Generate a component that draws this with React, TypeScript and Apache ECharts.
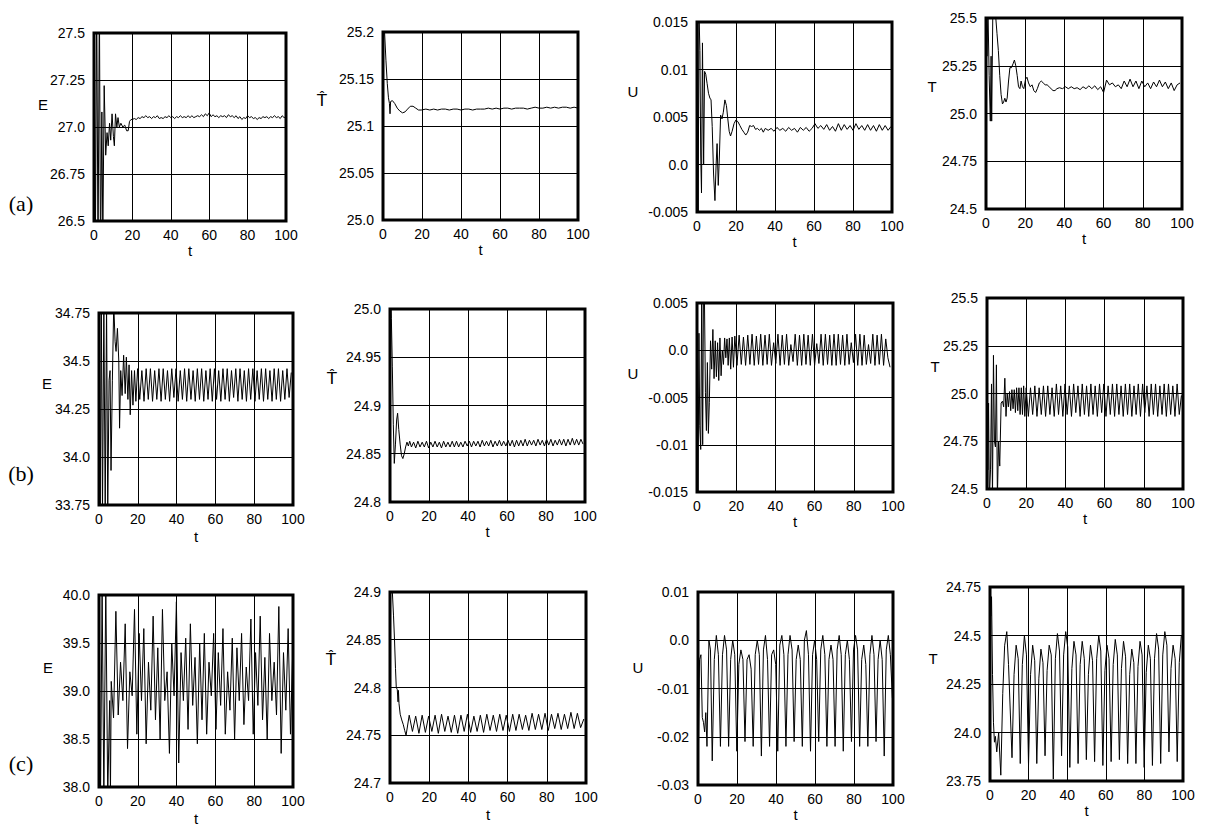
import React, { useEffect, useRef } from 'react';
import * as echarts from 'echarts';

type Pt = [number, number];

const X_LABELS = ['0', '20', '40', '60', '80', '100'];

// ---------- row (a) ----------
const A_E_LABELS = ['26.5', '26.75', '27.0', '27.25', '27.5'];
const A_E_START: Pt[] = [
  [0, 27.6], [0.7, 26.3], [1.4, 27.7], [2.1, 26.3], [2.8, 27.7], [3.4, 26.3], [4.1, 27.08], [4.6, 26.4],
  [5.3, 27.22], [6.1, 26.85], [6.8, 26.97], [7.4, 26.9], [8.1, 27.02], [8.7, 26.93], [9.4, 27.07],
  [10.1, 26.95], [10.6, 26.9], [11.2, 27.07], [11.9, 27.0], [12.5, 27.05], [13.2, 27.0], [14, 27.02],
  [15, 27.0], [16, 27.01], [17, 26.98], [17.8, 26.98], [18.5, 27.03], [19.3, 27.04],
];
const A_E_T0 = 20;
const A_E_DT = 1;
const A_E_VALUES = [
  27.04, 27.045, 27.04, 27.05, 27.045, 27.055, 27.05, 27.06, 27.05, 27.055,
  27.045, 27.055, 27.05, 27.06, 27.045, 27.05, 27.045, 27.055, 27.05, 27.06,
  27.05, 27.055, 27.045, 27.055, 27.05, 27.06, 27.05, 27.055, 27.05, 27.06,
  27.05, 27.06, 27.05, 27.055, 27.06, 27.055, 27.065, 27.055, 27.07, 27.06,
  27.075, 27.055, 27.065, 27.055, 27.06, 27.05, 27.06, 27.055, 27.06, 27.05,
  27.065, 27.055, 27.06, 27.05, 27.06, 27.045, 27.055, 27.04, 27.05, 27.045,
  27.06, 27.05, 27.055, 27.045, 27.05, 27.04, 27.05, 27.045, 27.055, 27.05,
  27.055, 27.045, 27.055, 27.05, 27.06, 27.05, 27.055, 27.045, 27.06, 27.05,
  27.055,
];

const A_TH_LABELS = ['25.0', '25.05', '25.1', '25.15', '25.2'];
const A_TH_START: Pt[] = [
  [0, 25.26], [0.8, 25.2], [1.5, 25.17], [2.2, 25.145], [2.8, 25.13], [3.3, 25.124], [3.6, 25.113],
  [3.9, 25.126], [4.8, 25.127], [6, 25.124], [7.3, 25.119], [8.6, 25.116], [10, 25.114], [11.3, 25.115],
  [12.6, 25.118], [14, 25.121], [15.4, 25.121], [16.8, 25.119], [18.2, 25.117], [19.6, 25.117],
];
const A_TH_T0 = 22;
const A_TH_DT = 2;
const A_TH_VALUES = [
  25.118, 25.117, 25.118, 25.117, 25.118, 25.118, 25.117, 25.118, 25.118, 25.117,
  25.118, 25.118, 25.117, 25.118, 25.118, 25.118, 25.119, 25.118, 25.119, 25.118,
  25.119, 25.119, 25.118, 25.119, 25.119, 25.119, 25.118, 25.119, 25.12, 25.119,
  25.119, 25.12, 25.119, 25.12, 25.119, 25.12, 25.12, 25.119, 25.12, 25.119,
];

const A_U_LABELS = ['-0.005', '0.0', '0.005', '0.01', '0.015'];
const A_U_START: Pt[] = [
  [0, 0.016], [0.6, -0.006], [1.0, 0.016], [1.5, 0.012], [1.9, 0.001], [2.3, -0.003], [2.8, 0.0128],
  [3.4, 0.0], [3.9, 0.0098], [4.5, 0.0095], [5.2, 0.0085], [5.9, 0.0075], [6.6, 0.007], [7.2, 0.0068],
  [7.8, 0.004], [8.5, -0.001], [9.2, -0.0038], [9.8, 0.0], [10.3, 0.0022], [10.9, -0.0022], [11.5, 0.001],
  [12.1, 0.0052], [12.8, 0.0048], [13.5, 0.0055], [14.3, 0.0068], [15.1, 0.0062], [15.8, 0.0048],
  [16.5, 0.0035], [17.2, 0.003], [18, 0.0035], [19, 0.0043], [20, 0.0047], [21, 0.0045], [22, 0.0041],
  [23, 0.0037], [24, 0.0034], [25, 0.0031], [26, 0.0034], [27, 0.0041], [28, 0.004], [29, 0.0041],
  [30, 0.0037], [31, 0.0038], [32, 0.0036], [33, 0.0038], [34, 0.0034], [35, 0.0038],
];
const A_U_T0 = 36.5;
const A_U_DT = 1.5;
const A_U_VALUES = [
  0.0036, 0.0038, 0.0035, 0.0039, 0.0036, 0.0038, 0.0035, 0.0039, 0.0036, 0.0038,
  0.0034, 0.0039, 0.0036, 0.0039, 0.0035, 0.0038, 0.0043, 0.0038, 0.0041, 0.0037,
  0.0042, 0.0036, 0.004, 0.0035, 0.0043, 0.0036, 0.0042, 0.0037, 0.0041, 0.0036,
  0.0043, 0.0037, 0.0041, 0.0036, 0.0042, 0.0036, 0.0041, 0.0035, 0.0042, 0.0036,
  0.0041, 0.0036, 0.004,
];

const A_T_LABELS = ['24.5', '24.75', '25.0', '25.25', '25.5'];
const A_T_START: Pt[] = [
  [0, 25.6], [0.5, 25.3], [1, 25.55], [1.6, 25.2], [2.2, 24.96], [2.6, 25.3], [2.9, 24.96], [3.5, 25.55],
  [4.3, 25.5], [5.0, 25.5], [5.6, 25.42], [6.3, 25.33], [7.0, 25.2], [7.7, 25.1], [8.4, 25.05], [9, 25.06],
  [9.6, 25.08], [10.2, 25.06], [10.8, 25.08], [11.5, 25.17], [12.2, 25.24], [13, 25.24], [13.8, 25.26],
  [14.5, 25.28], [15.2, 25.25], [15.9, 25.2], [16.6, 25.14], [17.3, 25.13], [17.9, 25.17], [18.6, 25.14],
  [19.3, 25.13], [20.2, 25.18], [20.9, 25.19], [21.7, 25.16], [22.6, 25.14], [23.5, 25.15], [24.4, 25.12],
  [25.3, 25.11], [26.2, 25.13], [27.2, 25.16], [28.2, 25.17], [29.2, 25.16], [30.2, 25.15], [31.2, 25.15],
  [32.2, 25.14], [33.2, 25.13], [34.2, 25.12], [35.2, 25.12], [36.2, 25.13],
];
const A_T_T0 = 37.5;
const A_T_DT = 1.5;
const A_T_VALUES = [
  25.135, 25.13, 25.14, 25.13, 25.14, 25.13, 25.135, 25.125, 25.14, 25.13,
  25.145, 25.13, 25.145, 25.125, 25.14, 25.11, 25.175, 25.15, 25.16, 25.14,
  25.15, 25.13, 25.17, 25.14, 25.18, 25.14, 25.17, 25.13, 25.17, 25.14,
  25.16, 25.13, 25.165, 25.14, 25.175, 25.14, 25.165, 25.13, 25.16, 25.12,
  25.15, 25.16,
];

// ---------- row (b) ----------
const B_E_LABELS = ['33.75', '34.0', '34.25', '34.5', '34.75'];
const B_E_START: Pt[] = [
  [0, 34.8], [0.6, 33.7], [1.2, 34.8], [1.8, 33.7], [2.5, 34.8], [3.2, 33.7], [3.9, 34.8], [4.5, 33.7],
  [5.2, 34.4], [5.7, 34.45], [6.2, 33.93], [6.9, 34.4], [7.6, 34.8], [8.3, 34.6], [8.8, 34.55], [9.5, 34.67],
  [10.2, 34.5], [10.6, 34.15], [11.2, 34.45], [11.9, 34.32], [12.7, 34.53], [13.5, 34.33], [14.1, 34.52],
  [14.9, 34.3], [15.5, 34.48], [16.1, 34.22], [16.8, 34.45], [17.5, 34.27], [18.3, 34.45], [19, 34.29],
];
const B_E_T0 = 19.9;
const B_E_DT = 1.1;
const B_E_VALUES = [
  34.46, 34.3, 34.45, 34.29, 34.46, 34.3, 34.46, 34.29, 34.45, 34.3,
  34.46, 34.29, 34.46, 34.3, 34.45, 34.29, 34.46, 34.31, 34.46, 34.29,
  34.45, 34.3, 34.46, 34.29, 34.46, 34.3, 34.45, 34.29, 34.46, 34.3,
  34.46, 34.29, 34.45, 34.3, 34.46, 34.29, 34.46, 34.3, 34.45, 34.29,
  34.46, 34.3, 34.46, 34.29, 34.45, 34.31, 34.46, 34.29, 34.46, 34.3,
  34.45, 34.29, 34.46, 34.3, 34.46, 34.29, 34.45, 34.3, 34.46, 34.29,
  34.46, 34.3, 34.45, 34.29, 34.46, 34.3, 34.46, 34.29, 34.45, 34.3,
  34.46, 34.31, 34.44,
];

const B_TH_LABELS = ['24.8', '24.85', '24.9', '24.95', '25.0'];
const B_TH_START: Pt[] = [
  [0, 25.05], [0.7, 24.99], [1.2, 24.94], [1.7, 24.88], [2.2, 24.84], [2.8, 24.86], [3.4, 24.885],
  [3.9, 24.892], [4.5, 24.875], [5.2, 24.86], [5.9, 24.848], [6.6, 24.845], [7.3, 24.85], [8, 24.857],
  [8.7, 24.862], [9.4, 24.858], [10.1, 24.863],
];
const B_TH_T0 = 11;
const B_TH_DT = 1.1;
const B_TH_VALUES = [
  24.857, 24.862, 24.856, 24.863, 24.857, 24.862, 24.857, 24.863, 24.856, 24.862,
  24.857, 24.863, 24.857, 24.862, 24.856, 24.863, 24.857, 24.862, 24.857, 24.863,
  24.857, 24.863, 24.857, 24.862, 24.857, 24.863, 24.858, 24.863, 24.857, 24.863,
  24.858, 24.863, 24.857, 24.864, 24.858, 24.863, 24.858, 24.864, 24.857, 24.863,
  24.858, 24.864, 24.858, 24.863, 24.858, 24.864, 24.858, 24.864, 24.857, 24.864,
  24.858, 24.864, 24.858, 24.865, 24.858, 24.864, 24.859, 24.864, 24.858, 24.865,
  24.859, 24.864, 24.858, 24.865, 24.859, 24.865, 24.858, 24.864, 24.859, 24.865,
  24.859, 24.865, 24.858, 24.865, 24.859, 24.866, 24.859, 24.865, 24.859, 24.865,
  24.86,
];

const B_U_LABELS = ['-0.015', '-0.01', '-0.005', '0.0', '0.005'];
const B_U_START: Pt[] = [
  [0, 0.006], [0.5, -0.016], [1.0, 0.0018], [1.4, -0.008], [1.9, -0.0105], [2.4, 0.006], [2.9, -0.01],
  [3.3, 0.006], [3.8, 0.0055], [4.3, -0.0045], [4.8, -0.0085], [5.3, -0.0013], [5.8, -0.0088],
  [6.3, -0.0055], [6.9, 0.001], [7.5, -0.002], [8.1, 0.0022], [8.7, -0.003], [9.3, 0.001], [9.9, -0.0028],
  [10.5, 0.0008], [11.1, -0.0032], [11.7, 0.0013], [12.3, -0.0027], [12.9, 0.0], [13.5, -0.0015],
  [14.1, 0.0013], [14.7, -0.0008], [15.3, 0.0012], [15.9, -0.0016], [16.5, 0.0013], [17.2, -0.002],
  [17.9, 0.0014], [18.6, -0.0018],
];
const B_U_T0 = 19.3;
const B_U_DT = 1.1;
const B_U_VALUES = [
  0.0015, -0.0016, 0.0016, -0.0015, 0.0014, -0.0016, 0.0016, -0.0015, 0.0017, -0.0016,
  0.0015, -0.0015, 0.0017, -0.0016, 0.0016, -0.0015, 0.0017, -0.0016, 0.0008, -0.0014,
  0.0017, -0.0016, 0.0016, -0.0015, 0.0017, -0.0016, 0.0006, -0.0012, 0.0017, -0.0016,
  0.0016, -0.0016, 0.0017, -0.0015, 0.0016, -0.0016, 0.0017, -0.0016, 0.0007, -0.0014,
  0.0017, -0.0016, 0.0017, -0.0015, 0.0016, -0.0016, 0.0017, -0.0016, 0.0017, -0.0015,
  0.0016, -0.0016, 0.0017, -0.0015, 0.0008, -0.0013, 0.0017, -0.0016, 0.0017, -0.0016,
  0.0016, -0.0015, 0.0006, -0.0014, 0.0017, -0.0016, 0.0016, -0.0015, 0.0017, -0.0016,
  0.0012, -0.0008, -0.0018,
];

const B_T_LABELS = ['24.5', '24.75', '25.0', '25.25', '25.5'];
const B_T_START: Pt[] = [
  [0, 25.05], [0.4, 24.6], [0.8, 24.95], [1.2, 24.45], [1.8, 24.6], [2.3, 25.05], [2.8, 24.45], [3.3, 25.2],
  [3.8, 24.75], [4.3, 24.72], [4.8, 25.15], [5.3, 24.45], [5.9, 24.75], [6.5, 24.62], [7.2, 24.95],
  [7.9, 24.96], [8.5, 24.93], [9.1, 25.08], [9.7, 24.88], [10.3, 25.0], [10.9, 24.93], [11.5, 25.01],
  [12.1, 24.91], [12.7, 25.02], [13.3, 24.92], [13.9, 25.02], [14.5, 24.9], [15.1, 25.03], [15.7, 24.91],
  [16.3, 25.03], [16.9, 24.89], [17.5, 25.03], [18.1, 24.89], [18.7, 25.04], [19.3, 24.88],
];
const B_T_T0 = 20;
const B_T_DT = 1.1;
const B_T_VALUES = [
  25.03, 24.88, 25.03, 24.89, 25.04, 24.88, 25.03, 24.89, 25.04, 24.88,
  25.04, 24.89, 25.03, 24.88, 25.05, 24.89, 25.04, 24.88, 25.05, 24.89,
  25.04, 24.88, 25.05, 24.9, 25.04, 24.88, 25.05, 24.89, 25.04, 24.88,
  25.05, 24.89, 25.04, 24.88, 25.05, 24.9, 25.05, 24.88, 25.04, 24.89,
  25.05, 24.88, 25.05, 24.89, 25.04, 24.88, 25.05, 24.89, 25.05, 24.88,
  25.04, 24.89, 25.05, 24.88, 25.05, 24.9, 25.04, 24.88, 25.05, 24.89,
  25.05, 24.88, 25.04, 24.89, 25.05, 24.88, 25.05, 24.89, 25.04, 24.88,
  25.05, 24.89, 24.99,
];

// ---------- row (c) ----------
const C_E_LABELS = ['38.0', '38.5', '39.0', '39.5', '40.0'];
const C_E_START: Pt[] = [
  [0, 40.1], [0.8, 37.9], [1.6, 40.1], [2.5, 37.9], [3.5, 40.1], [4.5, 37.9], [5.5, 38.9], [5.9, 37.9],
];
const C_E_T0 = 6.3;
const C_E_DT = 1.2;
const C_E_VALUES = [
  39.1, 38.72, 39.83, 38.75, 39.3, 38.9, 39.7, 38.4, 39.2, 38.95,
  39.85, 38.55, 39.6, 38.9, 39.65, 38.45, 39.3, 38.8, 39.78, 38.7,
  39.45, 38.5, 39.85, 38.9, 39.2, 38.35, 39.5, 38.95, 39.93, 38.25,
  39.4, 38.9, 39.55, 38.6, 39.7, 38.85, 39.35, 38.45, 39.5, 38.7,
  39.6, 38.55, 39.3, 38.95, 39.6, 38.6, 39.4, 38.85, 39.65, 38.55,
  39.2, 38.8, 39.55, 38.5, 39.45, 38.9, 39.6, 38.65, 39.25, 38.9,
  39.75, 38.55, 39.4, 38.85, 39.78, 38.7, 39.35, 38.5, 39.6, 38.9,
  39.3, 38.75, 39.88, 38.35, 39.4, 38.8, 39.65, 38.55, 39.45,
];

const C_TH_LABELS = ['24.7', '24.75', '24.8', '24.85', '24.9'];
const C_TH_START: Pt[] = [
  [0, 24.93], [1.2, 24.9], [1.8, 24.875], [2.3, 24.85], [2.8, 24.82], [3.2, 24.8], [3.7, 24.798],
  [4.1, 24.785], [4.3, 24.797], [4.6, 24.783], [5.2, 24.772], [6, 24.766], [6.8, 24.761], [7.5, 24.755],
  [8.2, 24.75],
];
const C_TH_T0 = 9.8;
const C_TH_DT = 1.65;
const C_TH_VALUES = [
  24.771, 24.754, 24.77, 24.752, 24.771, 24.753, 24.77, 24.754, 24.771, 24.752,
  24.772, 24.754, 24.77, 24.753, 24.771, 24.752, 24.771, 24.754, 24.772, 24.753,
  24.77, 24.754, 24.771, 24.753, 24.772, 24.755, 24.771, 24.754, 24.772, 24.755,
  24.771, 24.754, 24.772, 24.755, 24.772, 24.756, 24.771, 24.755, 24.773, 24.756,
  24.772, 24.756, 24.773, 24.755, 24.772, 24.757, 24.773, 24.756, 24.772, 24.757,
  24.774, 24.757, 24.773, 24.758, 24.767,
];

const C_U_LABELS = ['-0.03', '-0.02', '-0.01', '0.0', '0.01'];
const C_U_START: Pt[] = [
  [0, -0.03], [0.8, -0.004], [1.5, -0.003], [2.2, -0.016], [2.8, -0.017], [3.4, -0.019], [4.0, -0.015],
  [4.6, -0.022], [5.6, 0.0], [6.4, -0.002], [7.3, -0.025],
];
const C_U_T0 = 8.35;
const C_U_DT = 1.05;
const C_U_VALUES = [
  -0.004, 0.001, -0.003, -0.022, -0.003, 0.001, -0.002, -0.022, -0.004, 0.0, -0.003, -0.023,
  -0.005, -0.002, -0.004, -0.021, -0.004, -0.003, -0.006, -0.022, -0.003, 0.0, -0.003, -0.024,
  -0.002, 0.001, -0.004, -0.022, -0.003, -0.002, -0.005, -0.023, -0.001, 0.001, -0.003, -0.022,
  -0.003, 0.001, -0.002, -0.021, -0.004, -0.001, -0.004, -0.022, 0.0, 0.002, -0.003, -0.023,
  -0.003, 0.0, -0.004, -0.021, -0.002, 0.001, -0.003, -0.022, -0.004, -0.001, -0.004, -0.022,
  -0.002, 0.001, -0.003, -0.023, -0.003, 0.0, -0.004, -0.021, -0.002, 0.001, -0.002, -0.022,
  -0.004, -0.001, -0.005, -0.022, -0.003, 0.001, -0.003, -0.021, -0.004, 0.0, -0.004, -0.024,
  -0.002, 0.001, -0.003, -0.012,
];

const C_T_LABELS = ['23.75', '24.0', '24.25', '24.5', '24.75'];
const C_T_START: Pt[] = [
  [0, 24.72], [0.4, 24.6], [0.8, 24.7], [1.3, 24.3], [1.8, 24.05], [2.3, 23.95], [2.8, 23.98], [3.5, 23.9],
  [4.5, 24.0], [5.6, 23.78], [6.6, 24.2], [7.6, 24.45], [8.7, 24.52], [9.6, 24.35],
];
const C_T_T0 = 11.4;
const C_T_DT = 1.07;
const C_T_VALUES = [
  23.87, 24.3, 24.45, 24.38, 23.84, 24.35, 24.5, 24.4, 23.83, 24.3, 24.45, 24.37,
  23.84, 24.28, 24.43, 24.36, 23.88, 24.32, 24.45, 24.4, 23.76, 24.38, 24.51, 24.42,
  23.88, 24.4, 24.52, 24.44, 23.82, 24.33, 24.47, 24.4, 23.84, 24.35, 24.47, 24.38,
  23.86, 24.3, 24.45, 24.37, 23.85, 24.38, 24.5, 24.42, 23.83, 24.32, 24.45, 24.38,
  23.85, 24.35, 24.48, 24.4, 23.86, 24.33, 24.47, 24.39, 23.84, 24.3, 24.43, 24.36,
  23.84, 24.34, 24.47, 24.4, 23.82, 24.31, 24.45, 24.38, 23.83, 24.38, 24.51, 24.43,
  23.84, 24.4, 24.52, 24.45, 23.9, 24.33, 24.45, 24.38, 23.85, 24.36, 24.5,
];

const ROW_LABELS = ['(a)', '(b)', '(c)'];

function series(start: Pt[], t0: number, dt: number, vals: number[]): Pt[] {
  return [...start, ...vals.map((v, i) => [t0 + i * dt, v] as Pt)];
}

type Panel = {
  box: [number, number, number, number];
  min: number; max: number; step: number; labels: string[];
  name: string; hat: boolean; nx: number; ny: number; tGap: number;
  data: Pt[];
};

const PANELS: Panel[] = [
  { box: [94, 33, 192, 188], min: 26.5, max: 27.5, step: 0.25, labels: A_E_LABELS, name: 'E', hat: false, nx: 43, ny: 104, tGap: 19, data: series(A_E_START, A_E_T0, A_E_DT, A_E_VALUES) },
  { box: [383, 32, 195, 188], min: 25.0, max: 25.2, step: 0.05, labels: A_TH_LABELS, name: 'T\u0302', hat: true, nx: 322, ny: 100, tGap: 21, data: series(A_TH_START, A_TH_T0, A_TH_DT, A_TH_VALUES) },
  { box: [697, 22, 195, 190], min: -0.005, max: 0.015, step: 0.005, labels: A_U_LABELS, name: 'U', hat: false, nx: 633, ny: 91, tGap: 18, data: series(A_U_START, A_U_T0, A_U_DT, A_U_VALUES) },
  { box: [986, 18, 196, 191], min: 24.5, max: 25.5, step: 0.25, labels: A_T_LABELS, name: 'T', hat: false, nx: 932, ny: 86, tGap: 21, data: series(A_T_START, A_T_T0, A_T_DT, A_T_VALUES) },
  { box: [99, 313, 194, 192], min: 33.75, max: 34.75, step: 0.25, labels: B_E_LABELS, name: 'E', hat: false, nx: 47, ny: 383, tGap: 24, data: series(B_E_START, B_E_T0, B_E_DT, B_E_VALUES) },
  { box: [390, 309, 195, 193], min: 24.8, max: 25.0, step: 0.05, labels: B_TH_LABELS, name: 'T\u0302', hat: true, nx: 332, ny: 378, tGap: 22, data: series(B_TH_START, B_TH_T0, B_TH_DT, B_TH_VALUES) },
  { box: [697, 303, 196, 189], min: -0.015, max: 0.005, step: 0.005, labels: B_U_LABELS, name: 'U', hat: false, nx: 633, ny: 373, tGap: 20, data: series(B_U_START, B_U_T0, B_U_DT, B_U_VALUES) },
  { box: [987, 298, 196, 191], min: 24.5, max: 25.5, step: 0.25, labels: B_T_LABELS, name: 'T', hat: false, nx: 935, ny: 366, tGap: 21, data: series(B_T_START, B_T_T0, B_T_DT, B_T_VALUES) },
  { box: [99, 595, 194, 193], min: 38.0, max: 40.0, step: 0.5, labels: C_E_LABELS, name: 'E', hat: false, nx: 48, ny: 667, tGap: 24, data: series(C_E_START, C_E_T0, C_E_DT, C_E_VALUES) },
  { box: [390, 592, 196, 191], min: 24.7, max: 24.9, step: 0.05, labels: C_TH_LABELS, name: 'T\u0302', hat: true, nx: 331, ny: 659, tGap: 24, data: series(C_TH_START, C_TH_T0, C_TH_DT, C_TH_VALUES) },
  { box: [698, 592, 195, 193], min: -0.03, max: 0.01, step: 0.01, labels: C_U_LABELS, name: 'U', hat: false, nx: 638, ny: 667, tGap: 20, data: series(C_U_START, C_U_T0, C_U_DT, C_U_VALUES) },
  { box: [990, 587, 193, 194], min: 23.75, max: 24.75, step: 0.25, labels: C_T_LABELS, name: 'T', hat: false, nx: 933, ny: 658, tGap: 19, data: series(C_T_START, C_T_T0, C_T_DT, C_T_VALUES) },
];

const ROW_LABEL_POS: [number, number][] = [[21, 203], [21, 473], [21, 763]];

const SANS = '"Liberation Sans", Arial, Helvetica, sans-serif';
const HAT_FONT = '"DejaVu Sans", "Liberation Sans", sans-serif';
const SERIF = '"Liberation Serif", "Times New Roman", serif';

export default function App() {
  const ref = useRef<HTMLDivElement>(null);
  useEffect(() => {
    if (!ref.current) return;
    const chart = echarts.init(ref.current, undefined, { renderer: 'svg' });
    const grid: any[] = [];
    const xAxis: any[] = [];
    const yAxis: any[] = [];
    const seriesArr: any[] = [];
    const graphic: any[] = [];
    PANELS.forEach((p, i) => {
      grid.push({
        left: p.box[0], top: p.box[1], width: p.box[2], height: p.box[3],
        show: true, borderColor: '#000', borderWidth: 3, backgroundColor: 'transparent', containLabel: false,
      });
      xAxis.push({
        type: 'value', gridIndex: i, min: 0, max: 100, interval: 20,
        axisLine: { show: false }, axisTick: { show: false },
        splitLine: { show: true, lineStyle: { color: '#000', width: 1 } },
        axisLabel: {
          color: '#000', fontSize: 14, fontFamily: SANS, margin: 7,
          formatter: (v: number) => X_LABELS[Math.round(v / 20)] ?? '',
        },
        name: 't', nameLocation: 'middle', nameGap: p.tGap,
        nameTextStyle: { color: '#000', fontSize: 15, fontFamily: SANS },
      });
      yAxis.push({
        type: 'value', gridIndex: i, min: p.min, max: p.max, interval: p.step,
        axisLine: { show: false }, axisTick: { show: false },
        splitLine: { show: true, lineStyle: { color: '#000', width: 1 } },
        axisLabel: {
          color: '#000', fontSize: 14, fontFamily: SANS, margin: 9,
          formatter: (v: number) => p.labels[Math.round((v - p.min) / p.step)] ?? '',
        },
      });
      seriesArr.push({
        type: 'line', xAxisIndex: i, yAxisIndex: i, data: p.data,
        showSymbol: false, symbol: 'none', clip: true, silent: true,
        lineStyle: { color: '#000', width: 1 },
      });
      graphic.push({
        type: 'text', x: p.nx, y: p.ny,
        style: {
          text: p.name, fill: '#000', fontSize: p.hat ? 16 : 15,
          fontFamily: p.hat ? HAT_FONT : SANS, align: 'center', verticalAlign: 'middle',
        },
      });
    });
    ROW_LABELS.forEach((t, i) => {
      graphic.push({
        type: 'text', x: ROW_LABEL_POS[i][0], y: ROW_LABEL_POS[i][1],
        style: { text: t, fill: '#000', fontSize: 22, fontFamily: SERIF, align: 'center', verticalAlign: 'middle' },
      });
    });
    chart.setOption({
      animation: false,
      backgroundColor: '#fff',
      grid, xAxis, yAxis, series: seriesArr, graphic,
    });
    return () => chart.dispose();
  }, []);
  return (
    <div
      ref={ref}
      style={{ position: 'absolute', left: 0, top: 0, width: 1208, height: 827, background: '#fff' }}
    />
  );
}
